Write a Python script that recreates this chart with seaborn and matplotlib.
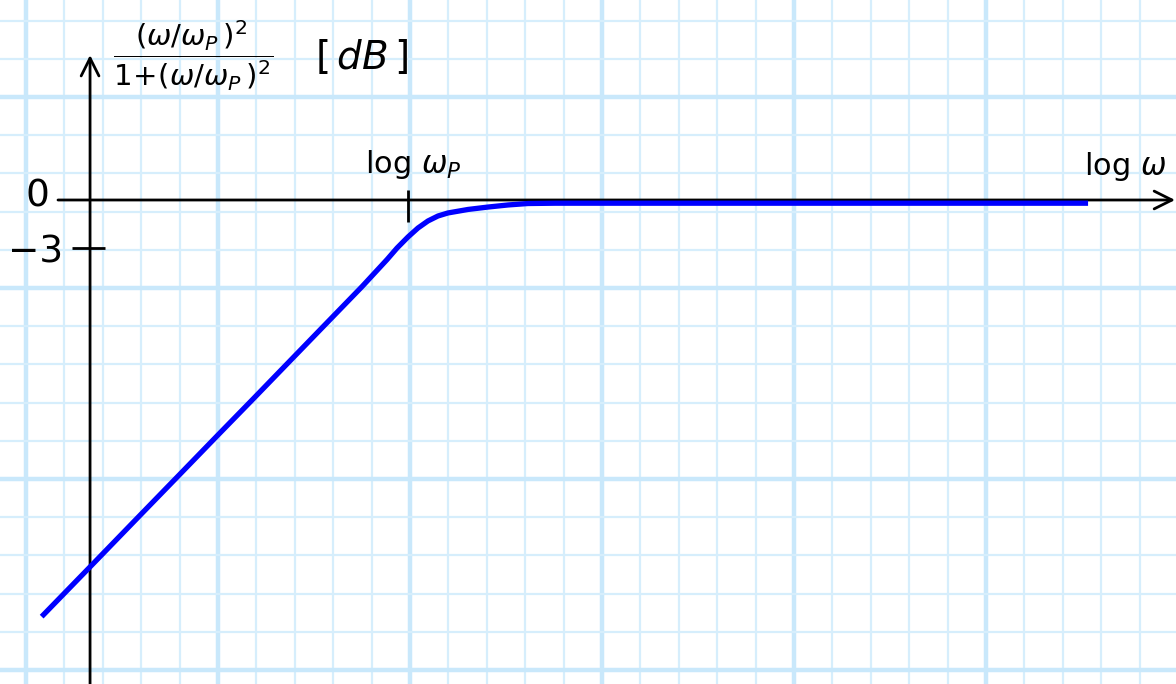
import numpy as np
import pandas as pd
import matplotlib
matplotlib.use("Agg")
import matplotlib.pyplot as plt
import seaborn as sns

# Bode magnitude of the high-pass term (omega/omega_P)^2 / (1 + (omega/omega_P)^2)
# x: log(omega) in decades relative to log(omega_P); y: magnitude in dB
log_w = [-1.908, -1.656, -1.396, -1.188, -0.990, -0.807, -0.615, -0.443, -0.240,
         -0.109, -0.057, 0.000, 0.052, 0.104, 0.156, 0.208, 0.313, 0.417, 0.521,
         0.625, 0.766, 3.542]
mag_db = [-26.04, -22.93, -19.71, -17.14, -14.69, -12.44, -10.06, -7.93, -5.42,
          -3.72, -3.00, -2.31, -1.75, -1.31, -1.00, -0.81, -0.59, -0.44, -0.31,
          -0.22, -0.20, -0.20]

y_ticks = [0, -3]
y_tick_labels = ["0", "\u22123"]
x_tick_pos = [0.0]
x_tick_labels = [r"$\log\,\omega_P$"]
x_axis_label = r"$\log\,\omega$"
y_axis_label = r"$\dfrac{(\omega/\omega_P\,)^2}{1\!+\!(\omega/\omega_P\,)^2}$"
unit_label = r"$[\,dB\,]$"

df = pd.DataFrame({"log_w": log_w, "mag_db": mag_db})

sns.set_theme(style="white")
plt.rcParams["font.family"] = ["DejaVu Sans"]
plt.rcParams["mathtext.fontset"] = "dejavusans"
plt.rcParams["text.color"] = "black"

W, H = 1176, 684
fig = plt.figure(figsize=(W / 100, H / 100), dpi=100)
fig.patch.set_facecolor("white")

# graph-paper background, coordinates in paper squares
bg = fig.add_axes([0, 0, 1, 1])
bg.set_xlim(-26 / 38.4, (W - 26) / 38.4)
bg.set_ylim((H - 97) / 38.2, -97 / 38.2)
bg.axis("off")
for i in range(-1, 31):
    major = i % 5 == 0
    bg.axvline(i, color="#c9e8fb" if major else "#d6eefc", lw=3.2 if major else 1.6, zorder=0)
for j in range(-3, 17):
    major = j % 5 == 0
    bg.axhline(j, color="#c9e8fb" if major else "#d6eefc", lw=3.2 if major else 1.6, zorder=0)

# plot axes
ax = fig.add_axes([0, 0, 1, 1])
ax.patch.set_alpha(0)
ax.set_xlim(-2.125, 4.0)
ax.set_ylim(-30.25, 12.5)
ax.axis("off")

y_axis_x = -1.656
x_axis_start = -1.823
x_axis_end = 3.995
y_axis_top = 9.06

ax.annotate("", xy=(x_axis_end, 0), xytext=(x_axis_start, 0),
            arrowprops=dict(arrowstyle="->", lw=2, color="black", mutation_scale=32,
                            shrinkA=0, shrinkB=0), zorder=2)
ax.annotate("", xy=(y_axis_x, y_axis_top), xytext=(y_axis_x, -30.25),
            arrowprops=dict(arrowstyle="->", lw=2, color="black", mutation_scale=32,
                            shrinkA=0, shrinkB=0), zorder=2)

# tick marks
for yt in y_ticks[1:]:
    ax.plot([y_axis_x - 0.094, y_axis_x + 0.078], [yt, yt], color="black", lw=2, zorder=2)
for xt in x_tick_pos:
    ax.plot([xt, xt], [0.62, -1.4], color="black", lw=2, zorder=2)

line_ax = sns.lineplot(data=df, x="log_w", y="mag_db", ax=ax, color="#0000ff", lw=3.8,
                       sort=False, zorder=3)
for ln in line_ax.get_lines():
    ln.set_solid_joinstyle("round")
    ln.set_solid_capstyle("butt")

# labels
ax.text(-1.932, 0.2, y_tick_labels[0], fontsize=27, ha="center", va="center", color="black")
ax.text(-1.94, -3.25, y_tick_labels[1], fontsize=27, ha="center", va="center", color="black")
ax.text(0.03, 1.7, x_tick_labels[0], fontsize=22, ha="center", va="baseline", color="black")
ax.text(3.735, 1.55, x_axis_label, fontsize=22, ha="center", va="baseline", color="black")
ax.text(-1.12, 9.0, y_axis_label, fontsize=21, ha="center", va="center", color="black")
ax.text(-0.24, 8.9, unit_label, fontsize=28, ha="center", va="center", color="black")

fig.savefig("out.png", dpi=100)
